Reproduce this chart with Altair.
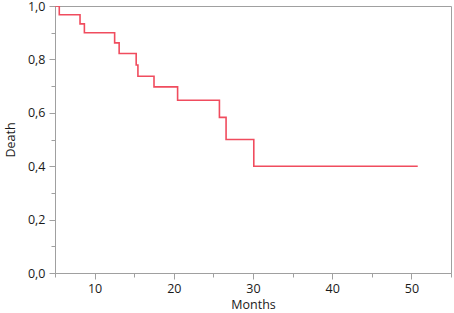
import altair as alt
import pandas as pd

months = [5.0, 5.54, 8.16, 8.71, 12.53, 13.10, 15.25, 15.47, 17.5, 20.48, 25.76, 26.6, 30.1, 50.8]
death = [1.0, 0.967, 0.933, 0.900, 0.862, 0.822, 0.779, 0.737, 0.697, 0.647, 0.583, 0.500, 0.400, 0.400]

df = pd.DataFrame({"Months": months, "Death": death})

FONT = "Open Sans"
AXIS_COLOR = "#a0a0a0"

x_ticks = [5, 10, 15, 20, 25, 30, 35, 40, 45, 50, 55]
y_ticks = [0.0, 0.1, 0.2, 0.3, 0.4, 0.5, 0.6, 0.7, 0.8, 0.9, 1.0]

chart = alt.Chart(df).mark_line(
    interpolate="step-after", color="#f04c5e", strokeWidth=1.6, clip=True
).encode(
    x=alt.X(
        "Months:Q",
        scale=alt.Scale(domain=[5, 55], nice=False, zero=False),
        axis=alt.Axis(
            values=x_ticks,
            labelExpr="datum.value % 10 === 0 && datum.value > 5 && datum.value < 55 ? datum.label : ''",
            tickSize={"condition": {"test": "datum.value % 10 === 0", "value": 6}, "value": 4},
            grid=False,
            domainColor=AXIS_COLOR,
            tickColor=AXIS_COLOR,
            labelPadding=3,
            titlePadding=4,
            labelFlush=False,
        ),
        title="Months",
    ),
    y=alt.Y(
        "Death:Q",
        scale=alt.Scale(domain=[0, 1], nice=False),
        axis=alt.Axis(
            values=y_ticks,
            labelExpr="round(datum.value * 10) % 2 === 0 ? replace(format(datum.value, '.1f'), '.', ',') : ''",
            tickSize={"condition": {"test": "round(datum.value * 10) % 2 === 0", "value": 6}, "value": 4},
            grid=False,
            domainColor=AXIS_COLOR,
            tickColor=AXIS_COLOR,
            labelPadding=4,
            titlePadding=10,
            labelFlush=False,
        ),
        title="Death",
    ),
).properties(
    width=396,
    height=267,
    autosize=alt.AutoSizeParams(type="none"),
    padding={"left": 55, "top": 6, "right": 3, "bottom": 40},
).configure_view(
    stroke=AXIS_COLOR, strokeWidth=1
).configure_axis(
    labelFont=FONT, titleFont=FONT, labelFontSize=12.5, titleFontSize=12.5,
    labelColor="#1a1a1a", titleColor="#1a1a1a", titleFontWeight="normal",
    domainWidth=1, tickWidth=1,
)

chart.save("out.html", embed_options={"renderer": "svg", "actions": False})
